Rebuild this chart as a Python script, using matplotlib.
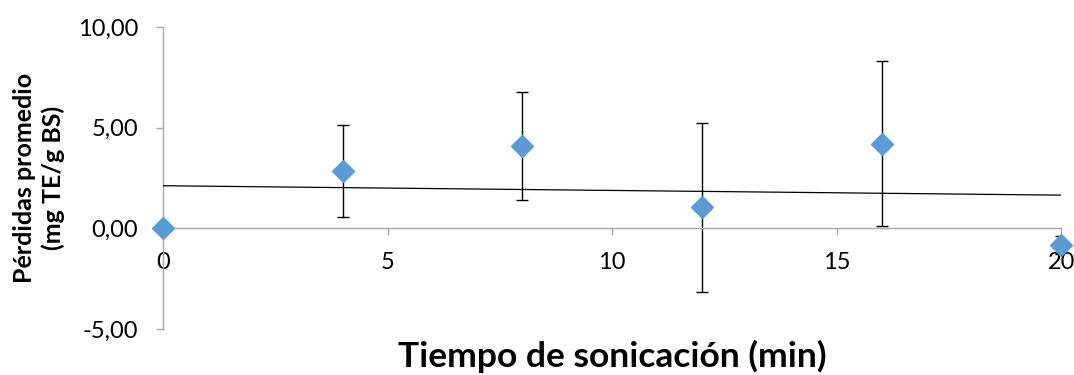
import numpy as np
import matplotlib
matplotlib.use("Agg")
import matplotlib.pyplot as plt
from matplotlib.ticker import FuncFormatter

plt.rcParams['font.family'] = ['Lato', 'DejaVu Sans']

# pérdidas promedio vs tiempo de sonicación
tiempo = [0, 4, 8, 12, 16, 20]
perdidas = [0.0, 2.84, 4.08, 1.04, 4.18, -0.85]
err_sup = [0.0, 2.28, 2.69, 4.18, 4.13, 0.45]
err_inf = [0.0, 2.29, 2.69, 4.22, 4.08, 0.45]

fig = plt.figure(figsize=(10.74, 3.75), dpi=100)
ax = fig.add_axes([0.1518, 0.1227, 0.8364, 0.8053])

ax.errorbar(tiempo, perdidas, yerr=[err_inf, err_sup], fmt='none',
            ecolor='black', elinewidth=1.0, capsize=4.5, capthick=1.0, zorder=2)
ax.plot(tiempo, perdidas, 'D', color='#5B9BD5', markersize=11, zorder=4, clip_on=False)

# tendencia lineal
p = np.polyfit(tiempo, perdidas, 1)
xt = np.array([0, 20])
ax.plot(xt, np.polyval(p, xt), color='black', lw=0.9, zorder=3)

ax.set_xlim(0, 20)
ax.set_ylim(-5, 10)
ax.set_xticks([0, 5, 10, 15, 20])
ax.set_yticks([-5, 0, 5, 10])
ax.yaxis.set_major_formatter(FuncFormatter(lambda v, pos: f"{v:.2f}".replace('.', ',')))

ax.spines['top'].set_visible(False)
ax.spines['right'].set_visible(False)
ax.spines['bottom'].set_position(('data', 0))
for s in ('left', 'bottom'):
    ax.spines[s].set_color('#a6a6a6')
    ax.spines[s].set_linewidth(1.0)
ax.tick_params(axis='both', color='#a6a6a6', length=5, width=1.0, labelsize=17)
ax.tick_params(axis='x', pad=12)
ax.tick_params(axis='y', pad=13)

ax.set_ylabel("Pérdidas promedio\n(mg TE/g BS)", fontsize=18, fontweight='bold',
              linespacing=1.3)
ax.yaxis.set_label_coords(-0.138, 0.5)
ax.yaxis.label.set_va('center')
ax.set_xlabel("Tiempo de sonicación (min)", fontsize=25.5, fontweight='bold')
ax.xaxis.set_label_coords(0.5, -0.035)

fig.savefig("out.png", dpi=100)
